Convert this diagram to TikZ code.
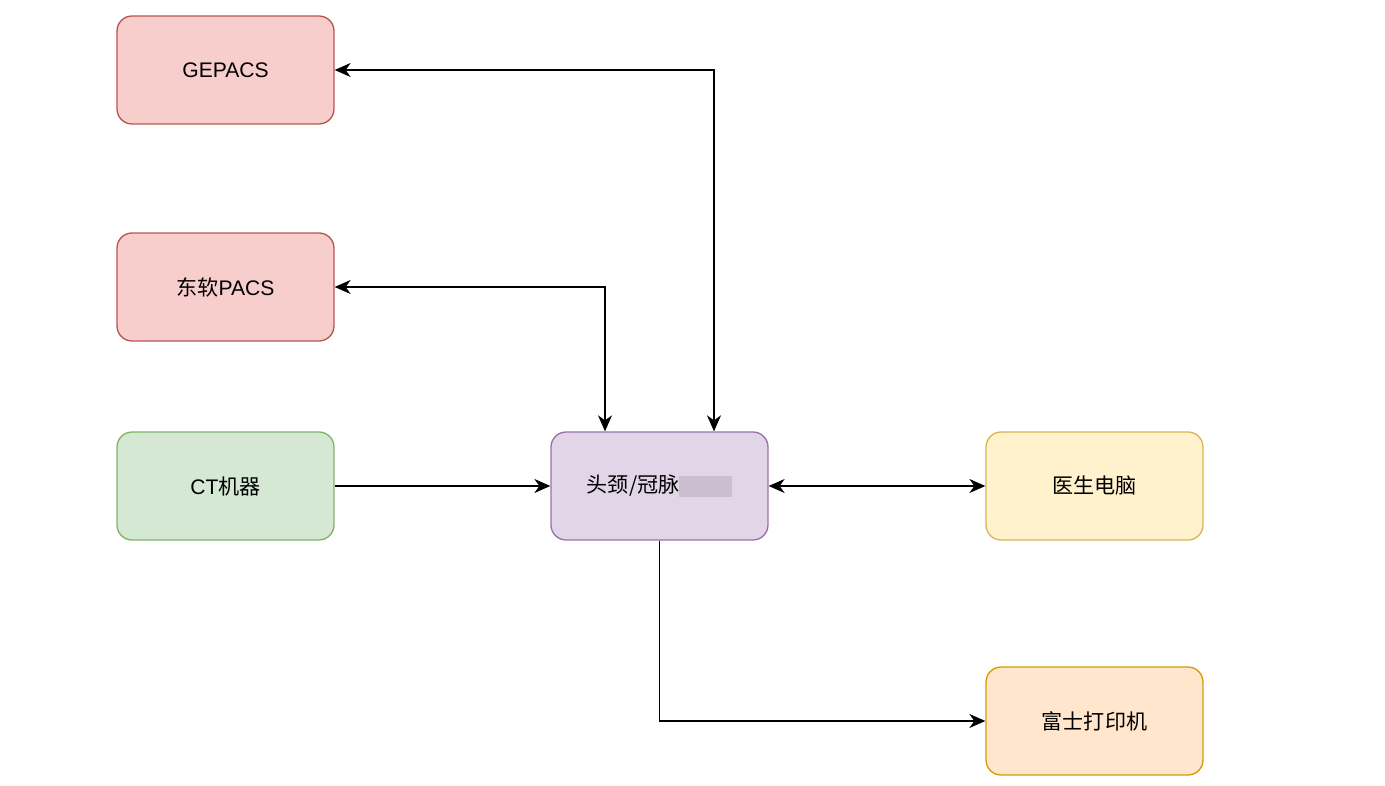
\documentclass[tikz,border=0pt]{standalone}
\usepackage{fontspec}
\setmainfont{Liberation Sans}
\newfontfamily\cjk{Noto Sans CJK SC}
\usepackage{xcolor}
\usepackage{tikz}
\usetikzlibrary{positioning,calc,arrows.meta}
\definecolor{redfill}{HTML}{F8CECC}
\definecolor{redline}{HTML}{B85450}
\definecolor{greenfill}{HTML}{D5E8D4}
\definecolor{greenline}{HTML}{82B366}
\definecolor{purplefill}{HTML}{E1D5E7}
\definecolor{purpleline}{HTML}{9673A6}
\definecolor{yellowfill}{HTML}{FFF2CC}
\definecolor{yellowline}{HTML}{D6B656}
\definecolor{orangefill}{HTML}{FFE6CC}
\definecolor{orangeline}{HTML}{D79B00}
\definecolor{blurgray}{HTML}{CBBFCF}

\begin{document}
\begin{tikzpicture}[x=0.02cm, y=-0.02cm,
					box/.style={
						draw, line width=0.75pt,
						minimum width=4.34cm, minimum height=2.16cm,
						rounded corners=0.3cm, font=\fontsize{12}{14}\selectfont,
						anchor=center
					},
					link/.style={line width=0.75pt, >={Stealth[length=0.32cm, width=0.28cm, inset=0.1cm]}}
					]
					\useasboundingbox (0,0) rectangle (1385,786);
					% linke Spalte: Quellen
					\node[box, draw=redline, fill=redfill]     (gepacs) at (225.5, 70)  {GEPACS};
					\node[box, draw=redline, fill=redfill]     (neupacs) at (225.5, 287) {{\cjk 东软}PACS};
					\node[box, draw=greenline, fill=greenfill] (ct) at (225.5, 486)      {CT{\cjk 机器}};
					% Mitte
					\node[box, draw=purpleline, fill=purplefill] (hub) at (659.5, 486)
						{{\cjk 头颈/冠脉}\textcolor{blurgray}{\rule[-0.2em]{2.5em}{1em}}};
					% rechte Spalte: Ziele
					\node[box, draw=yellowline, fill=yellowfill] (doctor) at (1094.5, 486)  {{\cjk 医生电脑}};
					\node[box, draw=orangeline, fill=orangefill] (printer) at (1094.5, 721) {{\cjk 富士打印机}};
					% Verbindungen
					\draw[link, <->] (gepacs.east) -| ([xshift=1.09cm]hub.north);
					\draw[link, <->] (neupacs.east) -| ([xshift=-1.09cm]hub.north);
					\draw[link, ->] (ct) -- (hub);
					\draw[link, <->] (hub) -- (doctor);
					\draw[link, ->] (hub.south) |- (printer.west);
				\end{tikzpicture}
\end{document}
